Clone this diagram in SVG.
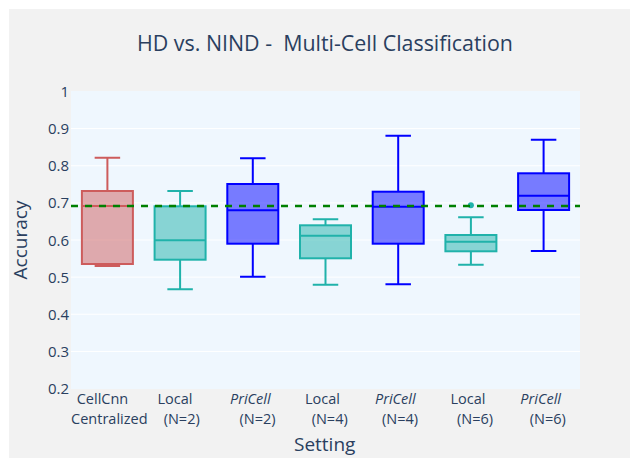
<svg xmlns="http://www.w3.org/2000/svg" width="630" height="458" viewBox="0 0 630 458">
<style>
text{font-family:"Open Sans","Liberation Sans",sans-serif;fill:#2a3f5f}
.title{font-size:21.4px;white-space:pre}
.yt{font-size:15px;text-anchor:end}
.xt{font-size:14.5px;text-anchor:middle}
.it{font-style:italic}
.at{font-size:19px;text-anchor:middle}
.grid{stroke:#ffffff;stroke-width:1}
.red{stroke:#cd5c5c;fill:rgba(205,92,92,0.5);stroke-width:2}
.teal{stroke:#20b2aa;fill:rgba(32,178,170,0.5);stroke-width:2}
.blue{stroke:#0000ff;fill:rgba(0,0,255,0.5);stroke-width:2}
.wr{stroke:#cd5c5c;stroke-width:2;fill:none}
.wt{stroke:#20b2aa;stroke-width:2;fill:none}
.wb{stroke:#0000ff;stroke-width:2;fill:none}
</style>
<rect x="0" y="0" width="630" height="458" fill="#ffffff"/>
<rect x="9" y="9" width="621" height="449" fill="#f2f2f2"/>
<rect x="71" y="91" width="509" height="298" fill="#eff7fe"/>
<g id="grid">
<line class="grid" x1="71" x2="580" y1="128.6" y2="128.6"/>
<line class="grid" x1="71" x2="580" y1="165.75" y2="165.75"/>
<line class="grid" x1="71" x2="580" y1="202.9" y2="202.9"/>
<line class="grid" x1="71" x2="580" y1="240" y2="240"/>
<line class="grid" x1="71" x2="580" y1="277.1" y2="277.1"/>
<line class="grid" x1="71" x2="580" y1="314.25" y2="314.25"/>
<line class="grid" x1="71" x2="580" y1="351.4" y2="351.4"/>
</g>
<g id="yticks">
<text class="yt" x="69" y="97">1</text>
<text class="yt" x="69" y="134.1">0.9</text>
<text class="yt" x="69" y="171.25">0.8</text>
<text class="yt" x="69" y="208.4">0.7</text>
<text class="yt" x="69" y="245.5">0.6</text>
<text class="yt" x="69" y="282.6">0.5</text>
<text class="yt" x="69" y="319.75">0.4</text>
<text class="yt" x="69" y="356.9">0.3</text>
<text class="yt" x="69" y="394">0.2</text>
</g>
<g id="box-cellcnn">
<path class="wr" d="M107.4 157.7V191M107.4 264V266M94.65 157.7H120.15M94.65 266H120.15"/>
<rect class="red" x="81.9" y="191" width="51" height="73"/>
<line class="wr" x1="81.9" x2="132.9" y1="206" y2="206"/>
</g>
<g id="box-local2">
<path class="wt" d="M180.1 191V206.3M180.1 259.7V289.3M167.35 191H192.85M167.35 289.3H192.85"/>
<rect class="teal" x="154.6" y="206.3" width="51" height="53.4"/>
<line class="wt" x1="154.6" x2="205.6" y1="240.3" y2="240.3"/>
</g>
<g id="box-pricell2">
<path class="wb" d="M252.8 158.3V184M252.8 243.7V276.7M240.05 158.3H265.55M240.05 276.7H265.55"/>
<rect class="blue" x="227.3" y="184" width="51" height="59.7"/>
<line class="wb" x1="227.3" x2="278.3" y1="210.3" y2="210.3"/>
</g>
<g id="box-local4">
<path class="wt" d="M325.5 219.3V225.3M325.5 258.3V284.7M312.75 219.3H338.25M312.75 284.7H338.25"/>
<rect class="teal" x="300" y="225.3" width="51" height="33"/>
<line class="wt" x1="300" x2="351" y1="235.7" y2="235.7"/>
</g>
<g id="box-pricell4">
<path class="wb" d="M398.2 135.7V191.7M398.2 243.7V284.3M385.45 135.7H410.95M385.45 284.3H410.95"/>
<rect class="blue" x="372.7" y="191.7" width="51" height="52"/>
<line class="wb" x1="372.7" x2="423.7" y1="206.7" y2="206.7"/>
</g>
<g id="box-local6">
<path class="wt" d="M470.9 217.3V235M470.9 251.3V264.7M458.15 217.3H483.65M458.15 264.7H483.65"/>
<rect class="teal" x="445.4" y="235" width="51" height="16.3"/>
<line class="wt" x1="445.4" x2="496.4" y1="241.7" y2="241.7"/>
<circle cx="470.9" cy="205.3" r="3" fill="#20b2aa"/>
</g>
<g id="box-pricell6">
<path class="wb" d="M543.6 139.7V173.3M543.6 210V251M530.85 139.7H556.35M530.85 251H556.35"/>
<rect class="blue" x="518.1" y="173.3" width="51" height="36.7"/>
<line class="wb" x1="518.1" x2="569.1" y1="195.7" y2="195.7"/>
</g>
<g id="connectors">
<line x1="71" x2="580" y1="206" y2="206" stroke="#008000" stroke-width="2.5" stroke-dasharray="7,7"/>
</g>
<g id="xticks">
<text class="xt" x="102.5" y="404">CellCnn</text>
<text class="xt" x="109.3" y="424">Centralized</text>
<text class="xt" x="175" y="404">Local</text>
<text class="xt" x="181.7" y="424">(N=2)</text>
<text class="xt it" x="250.3" y="404">PriCell</text>
<text class="xt" x="257.5" y="424">(N=2)</text>
<text class="xt" x="322.5" y="404">Local</text>
<text class="xt" x="329.7" y="424">(N=4)</text>
<text class="xt it" x="395.3" y="404">PriCell</text>
<text class="xt" x="400" y="424">(N=4)</text>
<text class="xt" x="468" y="404">Local</text>
<text class="xt" x="475" y="424">(N=6)</text>
<text class="xt it" x="540.7" y="404">PriCell</text>
<text class="xt" x="547.8" y="424">(N=6)</text>
</g>
<text class="at" x="324.7" y="451">Setting</text>
<text class="at" x="27" y="240" transform="rotate(-90 27 240)">Accuracy</text>
<text class="title" x="325" y="50.7" text-anchor="middle">HD vs. NIND -  Multi-Cell Classification</text>
</svg>
